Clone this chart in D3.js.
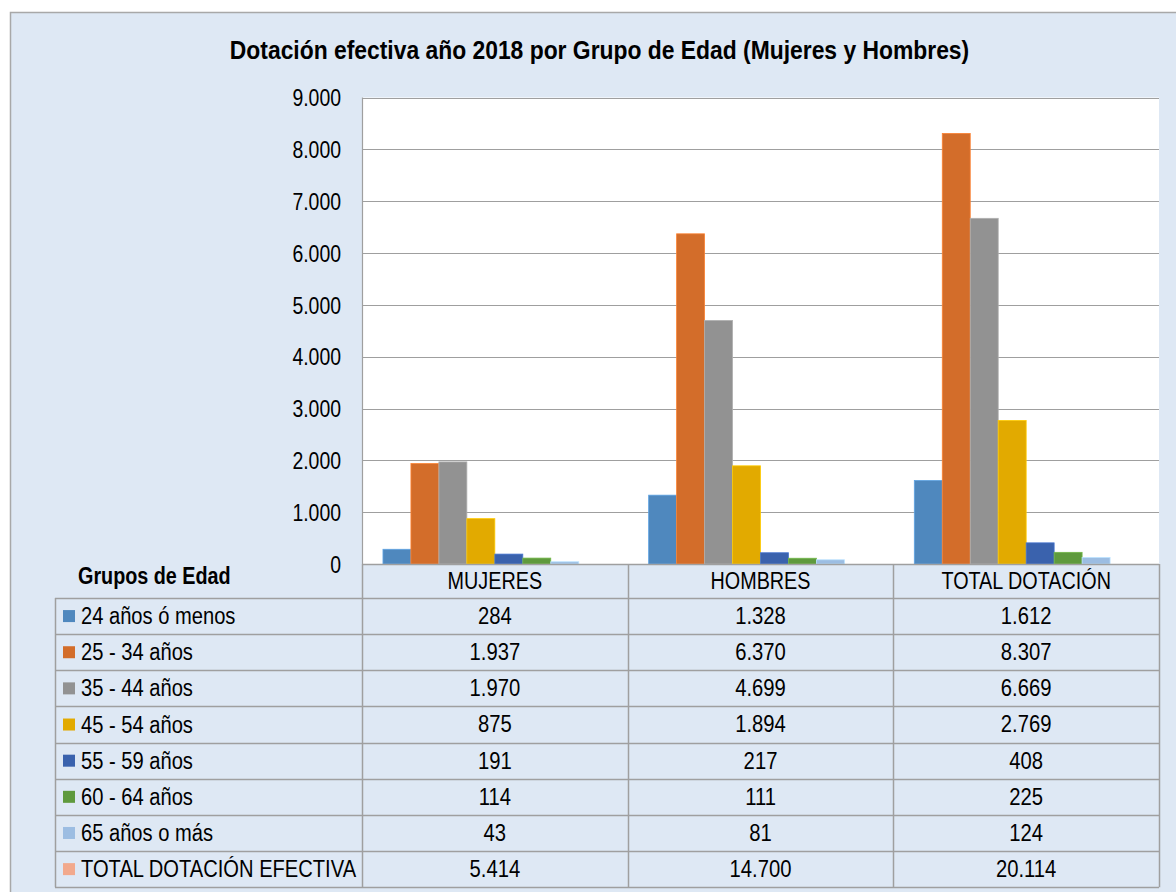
<!DOCTYPE html>
<html><head><meta charset="utf-8">
<script src="https://cdn.jsdelivr.net/npm/d3@7"></script>
<style>body{margin:0;background:#fff}svg{display:block}</style>
</head><body>
<svg id="c" width="1176" height="892"></svg>
<script>
const categories = ["MUJERES", "HOMBRES", "TOTAL DOTACIÓN"];
const seriesNames = ["24 años ó menos", "25 - 34 años", "35 - 44 años", "45 - 54 años", "55 - 59 años", "60 - 64 años", "65 años o más", "TOTAL DOTACIÓN EFECTIVA"];
const seriesColors = ["#4F88BE", "#D36D2A", "#929292", "#E2AA00", "#3A62AD", "#5F9A3D", "#9CBDE2", "#F2A98C"];
const s24 = [284, 1328, 1612];
const s25 = [1937, 6370, 8307];
const s35 = [1970, 4699, 6669];
const s45 = [875, 1894, 2769];
const s55 = [191, 217, 408];
const s60 = [114, 111, 225];
const s65 = [43, 81, 124];
const sTotal = [5414, 14700, 20114];
const plotted = [true, true, true, true, true, true, true, false];
const yTicks = [0, 1000, 2000, 3000, 4000, 5000, 6000, 7000, 8000, 9000];
const title = "Dotación efectiva año 2018 por Grupo de Edad (Mujeres y Hombres)";
const tableHeader = "Grupos de Edad";

const allSeries = [s24, s25, s35, s45, s55, s60, s65, sTotal];
const fmt = v => d3.format(",")(v).replace(/,/g, ".");

const svg = d3.select("#c");
const FONT = "'Liberation Sans', Arial, sans-serif";
const BG = "#DEE8F4", LINE = "#9F9F9F";

const L = 362, R = 1159, T = 97.5, B = 564;
const tableLeft = 55, headerBottom = 598, rowH = 36.15;

function txt(g, x, y, s, opt) {
  opt = opt || {};
  return g.append("text")
    .attr("transform", `translate(${x},${y}) scale(${opt.sx || 0.86},1)`)
    .attr("font-family", FONT)
    .attr("font-size", opt.size || 23)
    .attr("font-weight", opt.bold ? "bold" : "normal")
    .attr("text-anchor", opt.anchor || "start")
    .attr("dominant-baseline", "central")
    .attr("fill", "#000")
    .text(s);
}

// outer frame
svg.append("rect").attr("x", 10.5).attr("y", 12.5).attr("width", 1200).attr("height", 900)
  .attr("fill", BG).attr("stroke", "#A8A8A8").attr("stroke-width", 1.5);

// title
txt(svg, 599.5, 50, title, {bold: true, anchor: "middle", size: 26, sx: 0.88});

// scales
const x0 = d3.scaleBand().domain(categories).range([L, R]).paddingInner(0).paddingOuter(0);
const x1 = d3.scaleBand().domain(seriesNames).range([0, x0.bandwidth()]).paddingInner(0).paddingOuter(0.75);
const y = d3.scaleLinear().domain([0, 9000]).range([B, T]);

// plot area
svg.append("rect").attr("x", L).attr("y", T).attr("width", R - L).attr("height", B - T).attr("fill", "#fff");

// gridlines
svg.append("g").selectAll("line").data(yTicks.filter(d => d > 0)).join("line")
  .attr("x1", L).attr("x2", R).attr("y1", d => Math.round(y(d)) + 0.5).attr("y2", d => Math.round(y(d)) + 0.5)
  .attr("stroke", LINE).attr("stroke-width", 1.2);

// y axis labels
const yAxis = d3.axisLeft(y).tickValues(yTicks).tickFormat(fmt).tickSize(0).tickPadding(0);
const ya = svg.append("g").attr("transform", `translate(${L},0)`).call(yAxis);
ya.select(".domain").remove();
ya.selectAll("text").remove();
ya.selectAll(".tick").each(function(d) {
  txt(d3.select(this), -21, 0, fmt(d), {anchor: "end", size: 24, sx: 0.81});
});

// bars
const bars = svg.append("g");
categories.forEach((c, ci) => {
  seriesNames.forEach((s, si) => {
    if (!plotted[si]) return;
    const v = allSeries[si][ci];
    bars.append("rect")
      .attr("x", x0(c) + x1(s))
      .attr("y", y(v))
      .attr("width", x1.bandwidth())
      .attr("height", B - y(v))
      .attr("fill", seriesColors[si])
      .attr("stroke", d3.color(seriesColors[si]).brighter(0.5))
      .attr("stroke-width", 0.8);
  });
});

// left plot border
svg.append("line").attr("x1", L + 0.5).attr("x2", L + 0.5).attr("y1", T).attr("y2", B).attr("stroke", LINE).attr("stroke-width", 1.2);

// data table
const tb = svg.append("g");
const nRows = seriesNames.length;
const tableBottom = headerBottom + nRows * rowH;
tb.append("line").attr("x1", L).attr("x2", R).attr("y1", B + 0.5).attr("y2", B + 0.5).attr("stroke", LINE).attr("stroke-width", 1.5);
for (let i = 0; i <= nRows; i++) {
  const yy = Math.round(headerBottom + i * rowH) + 0.5;
  tb.append("line").attr("x1", tableLeft).attr("x2", R).attr("y1", yy).attr("y2", yy).attr("stroke", LINE).attr("stroke-width", 1.5);
}
tb.append("line").attr("x1", tableLeft + 0.5).attr("x2", tableLeft + 0.5).attr("y1", headerBottom).attr("y2", tableBottom).attr("stroke", LINE).attr("stroke-width", 1.5);
[L, ...categories.map(c => x0(c) + x0.bandwidth())].forEach(xx => {
  tb.append("line").attr("x1", Math.round(xx) + 0.5).attr("x2", Math.round(xx) + 0.5).attr("y1", B).attr("y2", tableBottom).attr("stroke", LINE).attr("stroke-width", 1.5);
});
categories.forEach(c => txt(tb, x0(c) + x0.bandwidth() / 2, (B + headerBottom) / 2, c, {anchor: "middle"}));
txt(tb, 78, 576, tableHeader, {bold: true, size: 23, sx: 0.86});
seriesNames.forEach((s, si) => {
  const cy = headerBottom + si * rowH + rowH / 2;
  tb.append("rect").attr("x", 63).attr("y", cy - 6).attr("width", 12).attr("height", 12).attr("fill", seriesColors[si]);
  txt(tb, 81, cy, s, {sx: 0.875});
  categories.forEach((c, ci) => txt(tb, x0(c) + x0.bandwidth() / 2, cy, fmt(allSeries[si][ci]), {anchor: "middle", sx: 0.88}));
});
</script>
</body></html>
